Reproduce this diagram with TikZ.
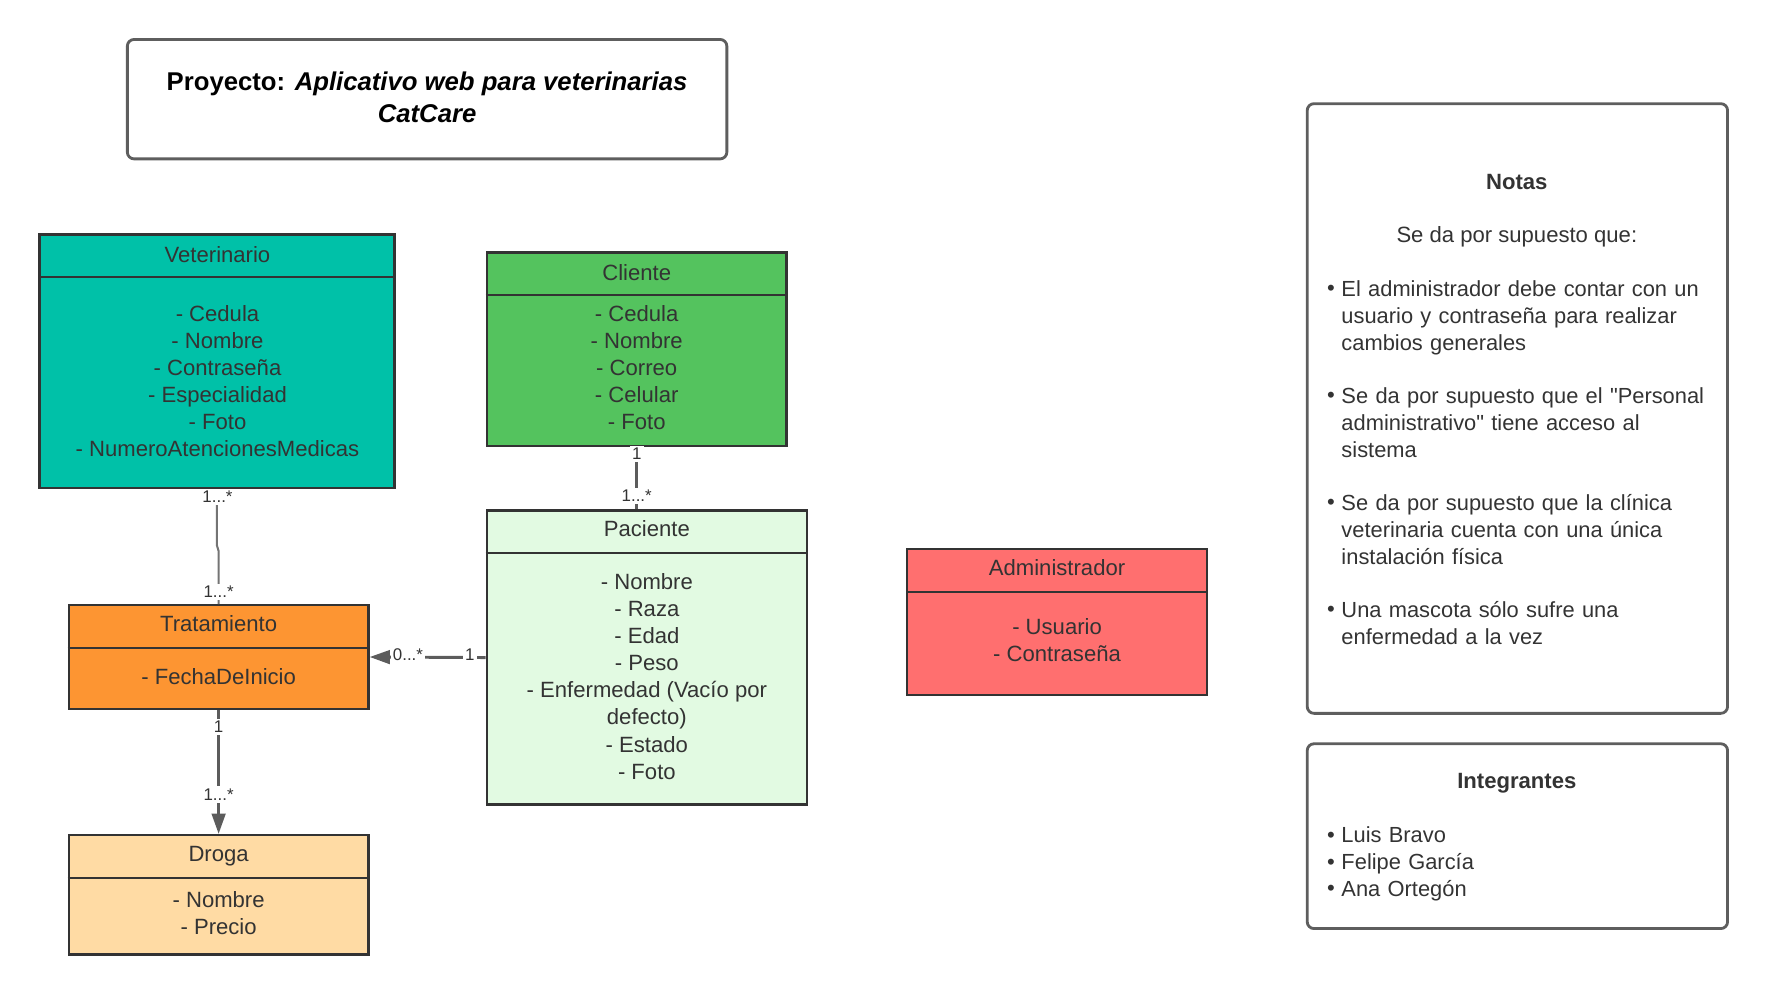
\documentclass[tikz,border=0pt]{standalone}
\usepackage{fontspec}
\setmainfont{Liberation Sans}
\usetikzlibrary{arrows.meta,fit}
\definecolor{ink}{HTML}{333333}
\definecolor{framecol}{HTML}{5E5E5E}
\definecolor{conncol}{HTML}{5C5C5C}
\definecolor{vetcol}{HTML}{00C1A8}
\definecolor{clicol}{HTML}{54C35E}
\definecolor{paccol}{HTML}{E2FAE2}
\definecolor{tratcol}{HTML}{FD9532}
\definecolor{drogacol}{HTML}{FFDBA4}
\definecolor{admincol}{HTML}{FF6F6F}
\begin{document}
\begin{tikzpicture}[x=0.5pt,y=-0.5pt,
  classbox/.style={draw=ink,line width=1pt,inner sep=0pt},
  divider/.style={draw=ink,line width=1pt},
  txt/.style={text=ink,font=\fontsize{9.8}{12}\selectfont,inner sep=0pt},
  attr/.style={txt,align=center,anchor=north,execute at begin node=\strut},
  hdr/.style={txt,anchor=base},
  para/.style={txt,font=\fontsize{9.7}{12}\selectfont,align=left,anchor=north west,text width=175pt,execute at begin node=\strut},
  bul/.style={txt,anchor=base},
  lbl/.style={text=ink,font=\fontsize{7.5}{9}\selectfont,fill=white,inner sep=1pt},
  conn/.style={draw=conncol,line width=1.1pt},
  roundbox/.style={draw=framecol,line width=1.25pt,rounded corners=3pt,inner sep=0pt},
]
\useasboundingbox (0,0) rectangle (1568,883);

% title
\node[roundbox,fit={(113,35) (645,141)}] (title) {};
\node[text=black,font=\fontsize{11.4}{14}\selectfont\bfseries,align=center,anchor=north,inner sep=0pt,execute at begin node=\strut] (titletxt) at (379,63.4) {Proyecto:\textit{ Aplicativo web para veterinarias}\\\textit{CatCare}};

% Veterinario
\node[classbox,fill=vetcol,fit={(35,208) (350,433)}] (vet) {};
\draw[divider] (vet.west |- 0,246) -- (vet.east |- 0,246);
\node[hdr] (vethdr) at (193,232.5) {Veterinario};
\node[attr] (vetattr) at (193,270.7) {- Cedula\\- Nombre\\- Contraseña\\- Especialidad\\- Foto\\- NumeroAtencionesMedicas};

% Cliente
\node[classbox,fill=clicol,fit={(432,224) (698,396)}] (cli) {};
\draw[divider] (cli.west |- 0,262) -- (cli.east |- 0,262);
\node[hdr] (clihdr) at (565,248.5) {Cliente};
\node[attr] (cliattr) at (565,270.7) {- Cedula\\- Nombre\\- Correo\\- Celular\\- Foto};

% Paciente
\node[classbox,fill=paccol,fit={(432,453) (716,714)}] (pac) {};
\draw[divider] (pac.west |- 0,491) -- (pac.east |- 0,491);
\node[hdr] (pachdr) at (574,476.5) {Paciente};
\node[attr] (pacattr) at (574,508.7) {- Nombre\\- Raza\\- Edad\\- Peso\\- Enfermedad (Vacío por\\defecto)\\- Estado\\- Foto};

% Tratamiento
\node[classbox,fill=tratcol,fit={(61,537) (327,629)}] (trat) {};
\draw[divider] (trat.west |- 0,575) -- (trat.east |- 0,575);
\node[hdr] (trathdr) at (194,560.5) {Tratamiento};
\node[hdr] (tratattr) at (194,607.5) {- FechaDeInicio};

% Droga
\node[classbox,fill=drogacol,fit={(61,741) (327,847)}] (droga) {};
\draw[divider] (droga.west |- 0,779) -- (droga.east |- 0,779);
\node[hdr] (drogahdr) at (194,764.5) {Droga};
\node[attr] (drogaattr) at (194,790.7) {- Nombre\\- Precio};

% Administrador
\node[classbox,fill=admincol,fit={(805,487) (1071,617)}] (admin) {};
\draw[divider] (admin.west |- 0,525) -- (admin.east |- 0,525);
\node[hdr] (adminhdr) at (938,510.5) {Administrador};
\node[attr] (adminattr) at (938,548.7) {- Usuario\\- Contraseña};

% Notas
\node[roundbox,fit={(1160,92) (1533,633)}] (notas) {};
\node[hdr,font=\fontsize{9.8}{12}\selectfont\bfseries] (notastit) at (1346,168.5) {Notas};
\node[hdr] (notassub) at (1346,215.5) {Se da por supuesto que:};
\node[bul] (b1) at (1181,262.5) {•};
\node[para] (p1) at (1190,245.7) {El administrador debe contar con un\\usuario y contraseña para realizar\\cambios generales};
\node[bul] (b2) at (1181,357.5) {•};
\node[para] (p2) at (1190,340.7) {Se da por supuesto que el \textquotedbl Personal\\administrativo\textquotedbl{} tiene acceso al\\sistema};
\node[bul] (b3) at (1181,452.5) {•};
\node[para] (p3) at (1190,435.7) {Se da por supuesto que la clínica\\veterinaria cuenta con una única\\instalación física};
\node[bul] (b4) at (1181,547.5) {•};
\node[para] (p4) at (1190,530.7) {Una mascota sólo sufre una\\enfermedad a la vez};

% Integrantes
\node[roundbox,fit={(1160,660) (1533,824)}] (integ) {};
\node[hdr,font=\fontsize{9.8}{12}\selectfont\bfseries] (integtit) at (1346,699.5) {Integrantes};
\node[bul] (i1) at (1181,747.5) {•};
\node[bul] (i2) at (1181,771.5) {•};
\node[bul] (i3) at (1181,794.5) {•};
\node[para] (ilist) at (1190,730.7) {Luis Bravo\\Felipe García\\Ana Ortegón};

% connectors
\draw[conn,line width=0.9pt,draw=conncol!85] (vet.south) -- (vet.south |- 0,484) -- (trat.north |- 0,489) -- (trat.north);
\draw[conn,line width=1.2pt] (cli.south) -- (cli.south |- pac.north);
\draw[conn,line width=1.3pt,-{Triangle[length=9pt,width=6pt]}] (pac.west) -- (trat.east);
\draw[conn,line width=1.3pt,-{Triangle[length=9pt,width=6pt]}] (trat.south) -- (droga.north);

% multiplicities
\node[lbl] (m1) at (193,441) {1...*};
\node[lbl] (m2) at (194,525) {1...*};
\node[lbl] (m3) at (565,403) {1};
\node[lbl] (m4) at (565,440) {1...*};
\node[lbl] (m5) at (362,581) {0...*};
\node[lbl] (m6) at (417,581) {1};
\node[lbl] (m7) at (194,645) {1};
\node[lbl] (m8) at (194,705) {1...*};
\end{tikzpicture}
\end{document}
